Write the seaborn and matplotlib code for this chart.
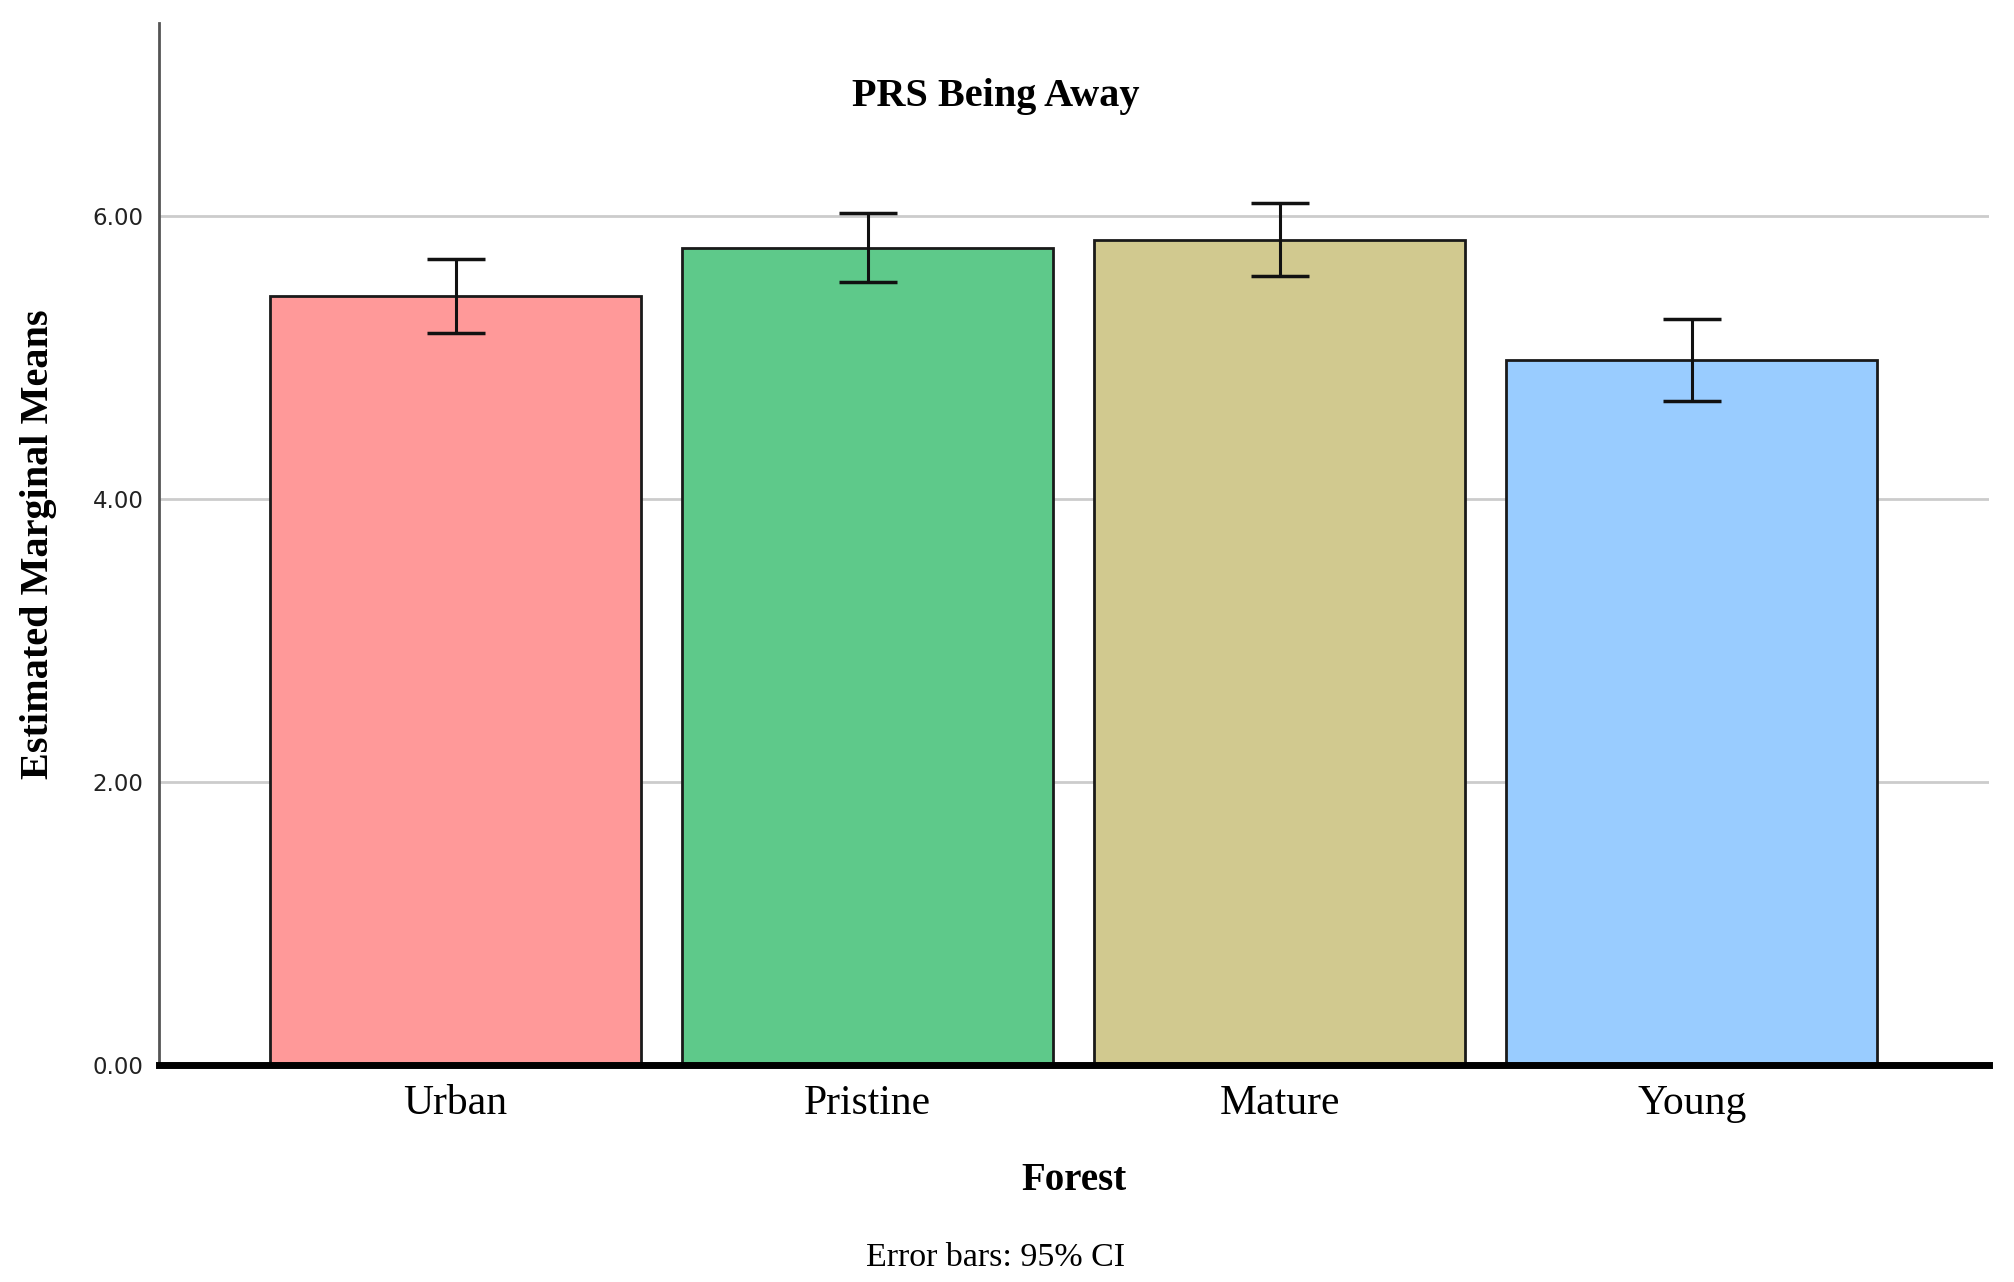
import matplotlib.pyplot as plt
import seaborn as sns

forest = ["Urban", "Pristine", "Mature", "Young"]
means = [5.43, 5.77, 5.83, 4.98]
ci_low = [5.17, 5.53, 5.57, 4.69]
ci_high = [5.69, 6.02, 6.09, 5.27]
colors = ["#ff9999", "#5ec98a", "#d1c98f", "#99ccff"]
yticks = [0, 2, 4, 6]

sns.set_style("white")
plt.rcParams["font.family"] = ["Liberation Serif", "DejaVu Serif"]
plt.rcParams["text.color"] = "black"
plt.rcParams["axes.labelcolor"] = "black"
plt.rcParams["xtick.color"] = "black"

fig = plt.figure(figsize=(20.15, 12.82), dpi=100)
ax = fig.add_axes([0.0789, 0.1693, 0.908, 0.8127])

sns.barplot(x=forest, y=means, hue=forest, palette=colors, width=0.9,
            saturation=1, edgecolor="#1a1a1a", linewidth=2, legend=False,
            ax=ax, zorder=2)

yerr = [[m - lo for m, lo in zip(means, ci_low)],
        [hi - m for m, hi in zip(means, ci_high)]]
ax.errorbar(range(len(forest)), means, yerr=yerr, fmt="none", ecolor="#111111",
            elinewidth=2.2, capsize=21, capthick=2.5, zorder=3)

ax.set_xlim(-0.72, 3.72)
ax.set_ylim(0, 7.36)
ax.set_yticks(yticks)
ax.set_yticklabels([f"{v:.2f}" for v in yticks], family="DejaVu Sans",
                   fontsize=16.5, color="#222222")
ax.tick_params(axis="y", length=0, pad=11)
ax.tick_params(axis="x", length=0, pad=14, labelsize=30)
ax.yaxis.grid(True, color="#cccccc", linewidth=2)
ax.set_axisbelow(True)

for s in ["top", "right"]:
    ax.spines[s].set_visible(False)
ax.spines["left"].set_color("#555555")
ax.spines["left"].set_linewidth(2)
ax.spines["bottom"].set_color("black")
ax.spines["bottom"].set_linewidth(5)
ax.spines["bottom"].set_zorder(4)

ax.set_xlabel("")
ax.set_ylabel("Estimated Marginal Means", fontsize=29, fontweight="bold", labelpad=26)

fig.text(0.494, 0.925, "PRS Being Away", ha="center", va="center",
         fontsize=29, fontweight="bold")
fig.text(0.533, 0.079, "Forest", ha="center", va="center",
         fontsize=28, fontweight="bold")
fig.text(0.494, 0.019, "Error bars: 95% CI", ha="center", va="center",
         fontsize=24.5)

fig.savefig("out.png", dpi=100)
